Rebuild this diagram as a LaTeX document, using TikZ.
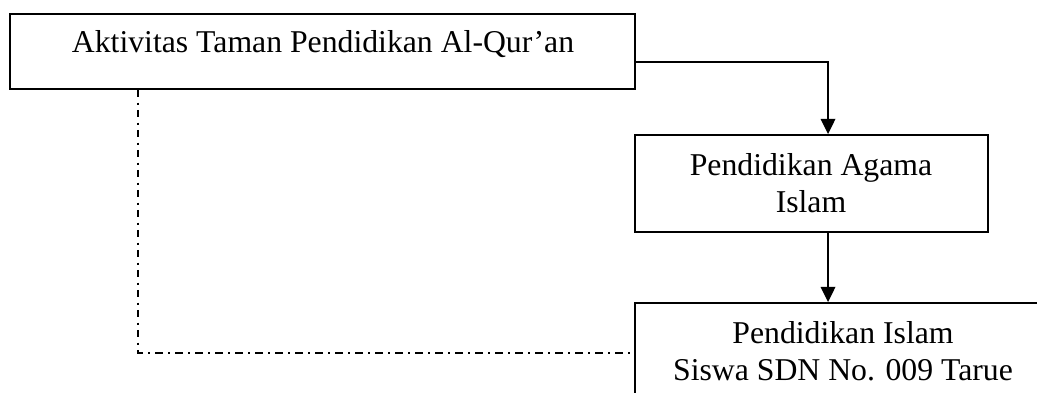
\documentclass[tikz,border=0pt]{standalone}
\usepackage{fontspec}
\setmainfont{Liberation Serif}
\usetikzlibrary{arrows.meta}
\begin{document}
\begin{tikzpicture}[x=0.75pt,y=-0.75pt,
  box/.style={draw, line width=1.3pt, inner sep=0pt},
  lbl/.style={font=\fontsize{23.8}{27.6}\selectfont, align=center, anchor=base, inner sep=0pt},
  conn/.style={line width=1.1pt, -{Triangle[length=11.5pt,width=11pt]}},
  dd/.style={line width=1.5pt, dash pattern=on 5.5pt off 4pt on 1.5pt off 4pt}]
\useasboundingbox (0,0) rectangle (1037,392);
\clip (0,0) rectangle (1037,392);
% boxes
\node[box, minimum width=468.75pt, minimum height=56.25pt] (b1) at (322.5,51.5) {};
\node[box, minimum width=264.75pt, minimum height=72.75pt] (b2) at (811.5,183.5) {};
\node[box, minimum width=312pt, minimum height=87.75pt] (b3) at (843,361.5) {};
% texts (base anchor = baseline of last line)
\node[lbl] (t1) at (323,53) {Aktivitas Taman Pendidikan Al-Qur’an};
\node[lbl] (t2) at (811,212) {Pendidikan Agama\\Islam};
\node[lbl] (t3) at (843,380) {Pendidikan Islam\\Siswa SDN No. 009 Tarue};
% connectors
\draw[conn] ([yshift=-7.9pt]b1.east) -| ([xshift=12.4pt]b2.north);
\draw[conn] ([xshift=12.4pt]b2.south) -- ([xshift=12.4pt]b2.south |- b3.north);
\draw[dd] ([xshift=97pt]b1.south west) |- ([yshift=6.4pt]b3.west);
\end{tikzpicture}
\end{document}
